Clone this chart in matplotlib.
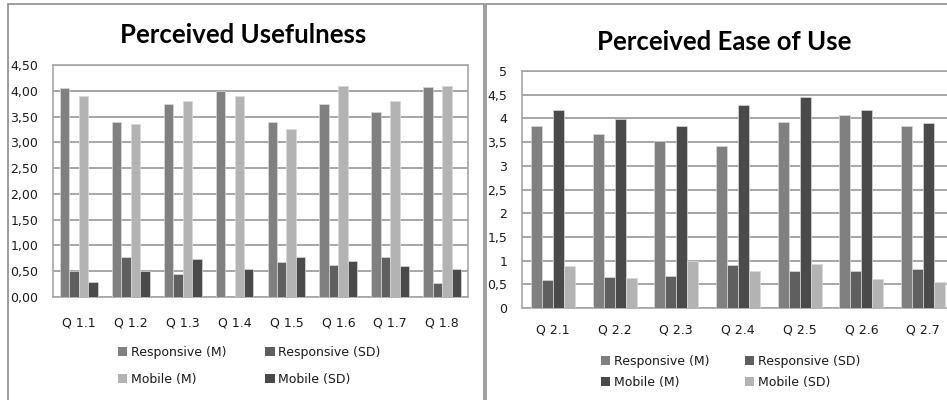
import matplotlib.pyplot as plt
from matplotlib.patches import Patch, Rectangle
import numpy as np

# Perceived usefulness (Q 1.x)
pu_labels = ["Q 1.1", "Q 1.2", "Q 1.3", "Q 1.4", "Q 1.5", "Q 1.6", "Q 1.7", "Q 1.8"]
pu_resp_m = [4.06, 3.40, 3.74, 4.00, 3.40, 3.74, 3.58, 4.07]
pu_resp_sd = [0.51, 0.78, 0.44, 0.00, 0.67, 0.63, 0.78, 0.28]
pu_mob_m = [3.90, 3.35, 3.81, 3.90, 3.26, 4.09, 3.81, 4.09]
pu_mob_sd = [0.30, 0.50, 0.74, 0.54, 0.78, 0.70, 0.60, 0.54]

# Perceived ease of use (Q 2.x)
peou_labels = ["Q 2.1", "Q 2.2", "Q 2.3", "Q 2.4", "Q 2.5", "Q 2.6", "Q 2.7"]
peou_resp_m = [3.83, 3.68, 3.52, 3.42, 3.92, 4.08, 3.83]
peou_resp_sd = [0.59, 0.66, 0.68, 0.91, 0.79, 0.79, 0.83]
peou_mob_m = [4.18, 3.99, 3.83, 4.28, 4.45, 4.18, 3.90]
peou_mob_sd = [0.89, 0.63, 1.00, 0.79, 0.93, 0.61, 0.54]

series_names = ["Responsive (M)", "Responsive (SD)", "Mobile (M)", "Mobile (SD)"]

plt.rcParams["font.family"] = ["DejaVu Sans"]
text_col = "#1a1a1a"
grid_col = "#a6a6a6"
W, H = 947, 400

fig = plt.figure(figsize=(9.47, 4.0), dpi=100)

# panel frames
for x0, w in [(8, 476), (486, 470)]:
    fig.patches.append(Rectangle((x0 / W, -0.1), w / W, 1.1 - 4.5 / H,
                                 transform=fig.transFigure, fill=False,
                                 edgecolor="#8c8c8c", lw=1.2))


def draw_panel(ax, labels, series, colors, width, ymax, fmt, xpad,
               leg_xy, leg_spacing, col_spacing):
    x = np.arange(len(labels))
    offs = (np.arange(4) - 1.5) * width
    for vals, off, c in zip(series, offs, colors):
        ax.bar(x + off, vals, width, color=c, edgecolor="#d9d9d9",
               linewidth=0.5, zorder=3)
    ticks = np.arange(0, ymax + 0.01, 0.5)
    ax.set_xlim(-0.5, len(labels) - 0.5)
    ax.set_ylim(0, ymax)
    ax.set_yticks(ticks)
    ax.set_yticklabels([fmt(v) for v in ticks])
    ax.set_xticks(x)
    ax.set_xticklabels(labels)
    ax.tick_params(length=0, labelsize=9, colors=text_col)
    ax.tick_params(axis="x", pad=xpad)
    ax.tick_params(axis="y", pad=10.5)
    ax.grid(axis="y", color=grid_col, lw=1.4, zorder=0)
    for s in ax.spines.values():
        s.set_color(grid_col)
        s.set_linewidth(1.2)
    handles = [Patch(facecolor=c, edgecolor="none") for c in colors]
    order = [0, 2, 1, 3]
    ax.legend([handles[i] for i in order], [series_names[i] for i in order],
              ncol=2, loc="upper left",
              bbox_to_anchor=(leg_xy[0] / W, 1 - leg_xy[1] / H),
              bbox_transform=fig.transFigure, frameon=False, fontsize=9,
              borderpad=0, borderaxespad=0,
              handlelength=0.75, handleheight=0.75, handletextpad=0.3,
              columnspacing=col_spacing, labelspacing=leg_spacing,
              labelcolor=text_col)


ax1 = fig.add_axes([53 / W, 1 - 297 / H, 415 / W, 232 / H])
draw_panel(ax1, pu_labels, [pu_resp_m, pu_resp_sd, pu_mob_m, pu_mob_sd],
           ["#808080", "#5f5f5f", "#b3b3b3", "#4a4a4a"], 0.1825, 4.5,
           lambda v: f"{v:.2f}".replace(".", ","), 14,
           (118, 346), 1.12, 3.1)
fig.text(243 / W, 1 - 35 / H, "Perceived Usefulness", ha="center",
         va="center", fontsize=18.5, fontweight="bold", color="#000000",
         family="Lato")

ax2 = fig.add_axes([522 / W, 1 - 308 / H, 432 / W, 237 / H])
draw_panel(ax2, peou_labels, [peou_resp_m, peou_resp_sd, peou_mob_m, peou_mob_sd],
           ["#808080", "#5f5f5f", "#4a4a4a", "#b3b3b3"], 0.178, 5.0,
           lambda v: f"{v:g}".replace(".", ","), 11,
           (601, 355), 0.65, 2.8)
fig.text(724 / W, 1 - 42 / H, "Perceived Ease of Use", ha="center",
         va="center", fontsize=18.5, fontweight="bold", color="#000000",
         family="Lato")

fig.savefig("out.png", dpi=100)
